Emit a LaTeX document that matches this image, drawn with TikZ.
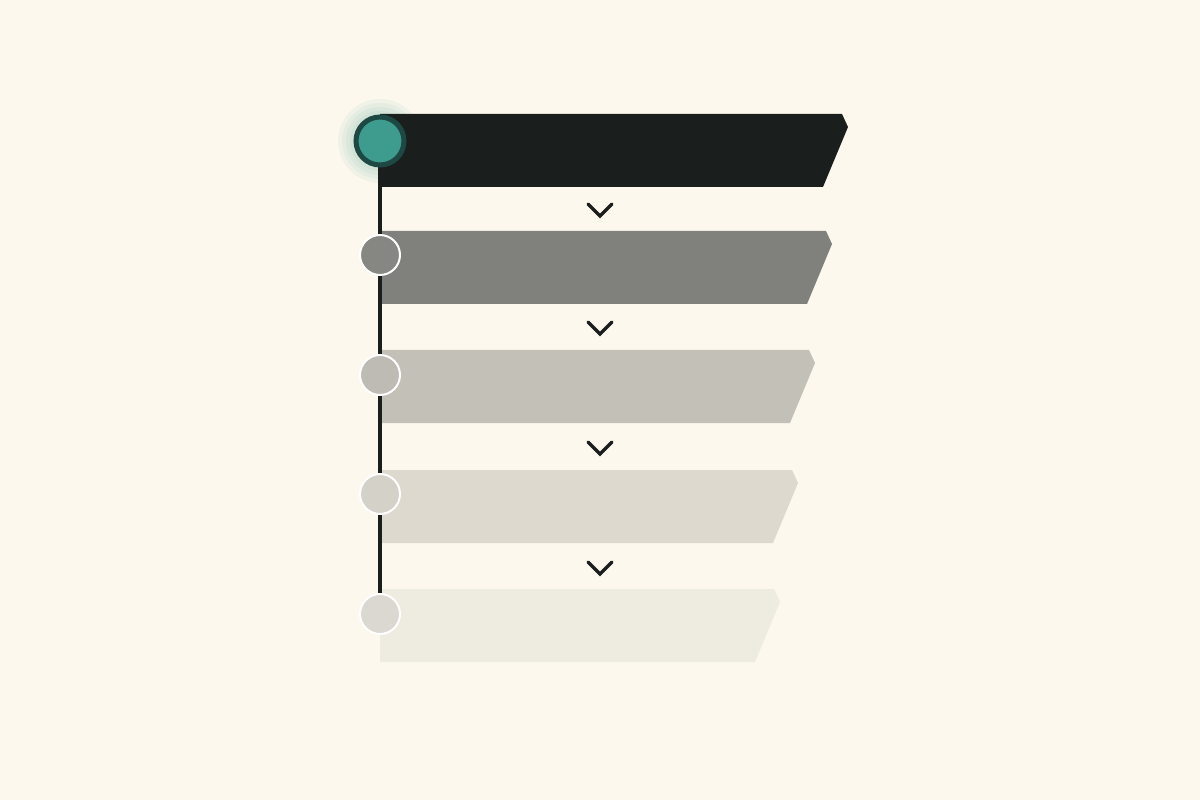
\documentclass[tikz,border=0pt]{standalone}
\usetikzlibrary{positioning}

\definecolor{paper}{HTML}{FCF8ED}
\definecolor{ink}{HTML}{1A1E1D}
\definecolor{tealdot}{HTML}{3D9C8E}
\definecolor{tealring}{HTML}{1E4843}
\definecolor{barA}{HTML}{1A1E1D}
\definecolor{barB}{HTML}{80807C}
\definecolor{barC}{HTML}{C2C0B7}
\definecolor{barD}{HTML}{DDD9CE}
\definecolor{barE}{HTML}{EEEBE0}
\definecolor{dotB}{HTML}{868683}
\definecolor{dotC}{HTML}{BDBBB4}
\definecolor{dotD}{HTML}{D3D1C8}
\definecolor{dotE}{HTML}{DAD8D0}

\begin{document}
\begin{tikzpicture}[
    x=0.02cm, y=-0.02cm,
    dot/.style={circle, draw=white, line width=0.04cm, minimum size=0.8cm, inner sep=0pt},
    activedot/.style={circle, draw=tealring, fill=tealdot, line width=0.1cm, minimum size=0.96cm, inner sep=0pt},
    spine/.style={draw=ink, line width=0.08cm},
    chevron/.style={draw=ink, line width=0.065cm, line cap=round, line join=miter},
]

% Background
\fill[paper] (0,0) rectangle (1200,800);

% Glow behind the active step
\foreach \r in {42,38,34,30} {
    \fill[tealdot, opacity=0.06] (380,141) circle[radius=\r];
}

% Stage bars
\fill[barA] (380,114) -- (842,114) -- (848,127) -- (823,187) -- (380,187) -- cycle;
\fill[barB] (380,231) -- (826,231) -- (832,244) -- (807,304) -- (380,304) -- cycle;
\fill[barC] (380,350) -- (809,350) -- (815,363) -- (790,423) -- (380,423) -- cycle;
\fill[barD] (380,470) -- (792,470) -- (798,483) -- (773,543) -- (380,543) -- cycle;
\fill[barE] (380,589) -- (774,589) -- (780,602) -- (755,662) -- (380,662) -- cycle;

% Step centres
\coordinate (s1) at (380,141);
\coordinate (s2) at (380,255);
\coordinate (s3) at (380,375);
\coordinate (s4) at (380,494);
\coordinate (s5) at (380,614);

% Spine
\draw[spine] (s1) -- (s5);

% Step markers
\node[activedot] (dot1) at (s1) {};
\node[dot, fill=dotB] (dot2) at (s2) {};
\node[dot, fill=dotC] (dot3) at (s3) {};
\node[dot, fill=dotD] (dot4) at (s4) {};
\node[dot, fill=dotE] (dot5) at (s5) {};

% Chevrons between bars
\draw[chevron] (588,204) -- (600,216) -- (612,204);
\draw[chevron] (588,322) -- (600,334) -- (612,322);
\draw[chevron] (588,442) -- (600,454) -- (612,442);
\draw[chevron] (588,562) -- (600,574) -- (612,562);

\end{tikzpicture}
\end{document}
